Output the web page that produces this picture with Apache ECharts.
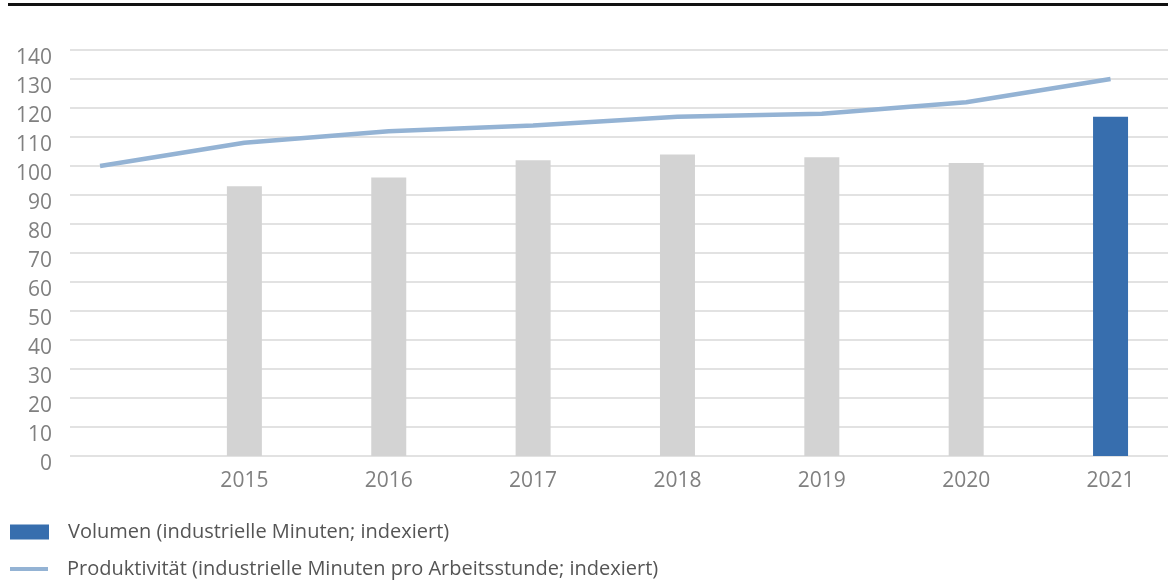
<!DOCTYPE html>
<html>
<head>
<meta charset="utf-8">
<style>
  html, body { margin: 0; padding: 0; background: #ffffff; }
  #chart { width: 1168px; height: 580px; }
</style>
<script src="https://cdn.jsdelivr.net/npm/echarts@6/dist/echarts.min.js"></script>
</head>
<body>
<div id="chart"></div>
<script>
// Years shown on the horizontal axis
const years = [2015, 2016, 2017, 2018, 2019, 2020, 2021];
// Volume index (industrial minutes), bars
const volumen = [93, 96, 102, 104, 103, 101, 117];
// Productivity index, line starts one year earlier (base 100)
const prodYears = [2014, 2015, 2016, 2017, 2018, 2019, 2020, 2021];
const produktivitaet = [100, 108, 112, 114, 117, 118, 122, 130];
// Value-axis ticks
const yTicks = { min: 0, max: 140, step: 10 };

const nameVol = 'Volumen (industrielle Minuten; indexiert)';
const nameProd = 'Produktivität (industrielle Minuten pro Arbeitsstunde; indexiert)';

const grey = '#d3d3d3';
const blue = '#376eae';
const lightBlue = '#94b3d4';
const fontFam = '"Open Sans", "Liberation Sans", sans-serif';

const chart = echarts.init(document.getElementById('chart'), null, { renderer: 'canvas' });

const barData = years.map((y, i) => ({
  value: [y, volumen[i]],
  itemStyle: { color: i === years.length - 1 ? blue : grey }
}));
const lineData = prodYears.map((y, i) => [y, produktivitaet[i]]);

const legendText = { color: '#555555', fontSize: 20, fontFamily: fontFam, padding: [0, 0, 0, 14] };

chart.setOption({
  animation: false,
  backgroundColor: '#ffffff',
  graphic: [{
    type: 'rect',
    shape: { x: 8, y: 3, width: 1160, height: 3 },
    style: { fill: '#111111' }
  }],
  grid: { left: 70, right: 0, top: 50, bottom: 124, containLabel: false },
  legend: [{
    data: [nameVol],
    orient: 'vertical',
    left: 5,
    top: 517,
    icon: 'rect',
    itemWidth: 39,
    itemHeight: 15,
    textStyle: legendText
  }, {
    data: [nameProd],
    orient: 'vertical',
    left: 5,
    top: 554,
    icon: 'rect',
    itemWidth: 38,
    itemHeight: 4,
    textStyle: legendText
  }],
  xAxis: {
    type: 'value',
    min: 2013.792,
    max: 2021.398,
    axisLine: { show: false },
    axisTick: { show: false },
    splitLine: { show: false },
    axisLabel: {
      customValues: years,
      formatter: v => String(v),
      color: '#808080',
      fontSize: 21,
      fontFamily: fontFam,
      margin: 15
    }
  },
  yAxis: {
    type: 'value',
    min: yTicks.min,
    max: yTicks.max,
    interval: yTicks.step,
    axisLine: { show: false },
    axisTick: { show: false },
    splitLine: { lineStyle: { color: '#d9d9d9', width: 1.5 } },
    axisLabel: {
      margin: 18,
      formatter: v => '{t|' + v + '}',
      rich: {
        t: {
          color: '#808080',
          fontSize: 21,
          fontFamily: fontFam,
          padding: [16, 0, 0, 0]
        }
      }
    }
  },
  series: [{
    name: nameVol,
    type: 'bar',
    barWidth: 35,
    itemStyle: { color: blue },
    data: barData
  }, {
    name: nameProd,
    type: 'line',
    showSymbol: false,
    symbol: 'none',
    lineStyle: { color: lightBlue, width: 4.5 },
    itemStyle: { color: lightBlue },
    data: lineData
  }]
});
</script>
</body>
</html>
